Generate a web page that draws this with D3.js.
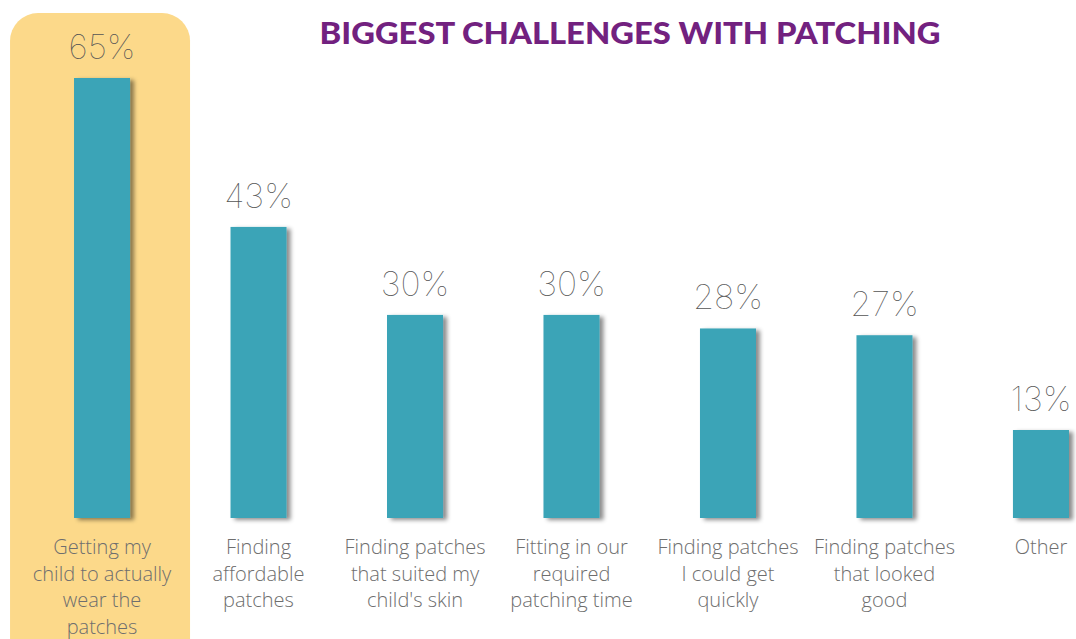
<!DOCTYPE html>
<html>
<head>
<meta charset="utf-8">
<script src="https://cdn.jsdelivr.net/npm/d3@7"></script>
<style>
  html, body { margin: 0; padding: 0; background: #ffffff; }
  svg { display: block; }
</style>
</head>
<body>
<svg id="chart" width="1076" height="639"></svg>
<script>
// Survey results: share of respondents naming each patching challenge
const categories = [
  "Getting my child to actually wear the patches",
  "Finding affordable patches",
  "Finding patches that suited my child's skin",
  "Fitting in our required patching time",
  "Finding patches I could get quickly",
  "Finding patches that looked good",
  "Other"
];
const labelLines = [
  ["Getting my", "child to actually", "wear the", "patches"],
  ["Finding", "affordable", "patches"],
  ["Finding patches", "that suited my", "child's skin"],
  ["Fitting in our", "required", "patching time"],
  ["Finding patches", "I could get", "quickly"],
  ["Finding patches", "that looked", "good"],
  ["Other"]
];
const values = [65, 43, 30, 30, 28, 27, 13];
const highlighted = [0];
const title = "BIGGEST CHALLENGES WITH PATCHING";

const svg = d3.select("#chart");
const baseY = 518;

const x = d3.scaleBand()
  .domain(categories)
  .range([23.8, 1119.2])
  .paddingInner(0.642)
  .paddingOuter(0.321);

const y = d3.scaleLinear()
  .domain([0, 65])
  .range([baseY, 78]);

// soft shadow cast to the lower right of each bar
const defs = svg.append("defs");
const f = defs.append("filter").attr("id", "barShadow")
  .attr("x", "-20%").attr("y", "-10%").attr("width", "160%").attr("height", "130%");
f.append("feDropShadow")
  .attr("dx", 4).attr("dy", 2).attr("stdDeviation", 2.2)
  .attr("flood-color", "#000").attr("flood-opacity", 0.45);

// highlight panel behind the leading category
svg.selectAll("rect.hl")
  .data(highlighted)
  .join("rect")
  .attr("class", "hl")
  .attr("x", i => x(categories[i]) + x.bandwidth() / 2 - 92)
  .attr("y", 13)
  .attr("width", 180)
  .attr("height", 680)
  .attr("rx", 28)
  .attr("fill", "#fcd98a");

// title
svg.append("text")
  .attr("x", 630)
  .attr("y", 44)
  .attr("text-anchor", "middle")
  .attr("font-family", "Lato, 'Open Sans', sans-serif")
  .attr("font-weight", 900)
  .attr("font-size", 31)
  .attr("fill", "#72217f")
  .attr("textLength", 621)
  .attr("lengthAdjust", "spacingAndGlyphs")
  .text(title);

// bars
svg.selectAll("rect.bar")
  .data(values)
  .join("rect")
  .attr("class", "bar")
  .attr("x", (d, i) => x(categories[i]))
  .attr("y", d => y(d))
  .attr("width", x.bandwidth())
  .attr("height", d => baseY - y(d))
  .attr("fill", "#3aa4b7")
  .attr("filter", "url(#barShadow)");

// value labels
svg.selectAll("text.val")
  .data(values)
  .join("text")
  .attr("class", "val")
  .attr("x", (d, i) => x(categories[i]) + x.bandwidth() / 2)
  .attr("y", d => y(d) - 19)
  .attr("text-anchor", "middle")
  .attr("font-family", "Inter, 'Open Sans', sans-serif")
  .attr("font-weight", 100)
  .attr("font-size", 34)
  .attr("fill", "#555555")
  .text(d => d + "%");

// category labels, wrapped over several lines
const cat = svg.selectAll("text.cat")
  .data(labelLines)
  .join("text")
  .attr("class", "cat")
  .attr("text-anchor", "middle")
  .attr("font-family", "'Open Sans', sans-serif")
  .attr("font-weight", 300)
  .attr("font-size", 20)
  .attr("fill", "#6e6e6e");

cat.each(function(lines, i) {
  const cx = x(categories[i]) + x.bandwidth() / 2;
  d3.select(this).selectAll("tspan")
    .data(lines)
    .join("tspan")
    .attr("x", cx)
    .attr("y", (l, j) => 554 + j * 26.6)
    .text(l => l);
});
</script>
</body>
</html>
